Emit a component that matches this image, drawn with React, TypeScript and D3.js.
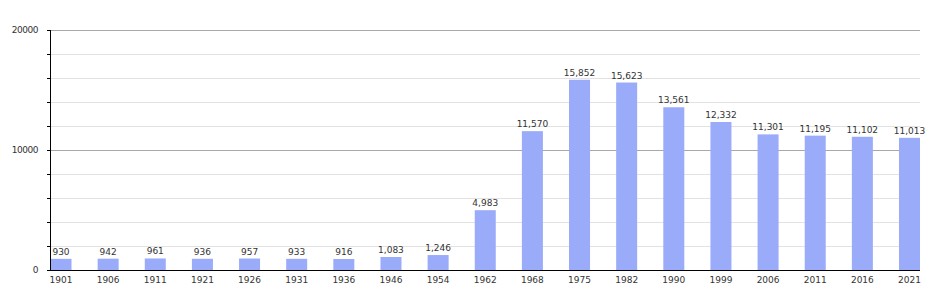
import React from "react";
import * as d3 from "d3";

const years = ["1901","1906","1911","1921","1926","1931","1936","1946","1954","1962","1968","1975","1982","1990","1999","2006","2011","2016","2021"];
const population = [930,942,961,936,957,933,916,1083,1246,4983,11570,15852,15623,13561,12332,11301,11195,11102,11013];
const yTicks = [0,2000,4000,6000,8000,10000,12000,14000,16000,18000,20000];
const yLabels = [0,10000,20000];

export default function App() {
  const width = 950, height = 300;
  const left = 50, right = 920, top = 30, bottom = 270;
  const barW = 21;
  const x = d3.scalePoint<string>().domain(years).range([left + 11, right - 10.5]);
  const y = d3.scaleLinear().domain([0, 20000]).range([bottom, top]);
  const fmt = d3.format(",");
  const font = "'DejaVu Sans', Verdana, sans-serif";
  return (
    <svg width={width} height={height} style={{ position: "absolute", left: 0, top: 0 }}>
      <rect width={width} height={height} fill="#fff" />
      {yTicks.map((t) => (
        <g key={t}>
          {t > 0 && (
            <line x1={left} x2={right} y1={y(t)} y2={y(t)}
              stroke={t % 10000 === 0 ? "#a8a8a8" : "#e2e2e2"} strokeWidth={1} shapeRendering="crispEdges" />
          )}
          <line x1={left - 3} x2={left} y1={y(t)} y2={y(t)} stroke="#000" shapeRendering="crispEdges" />
        </g>
      ))}
      {yLabels.map((t) => (
        <text key={t} x={left - 12} y={y(t) + 3} textAnchor="end" fontSize={9} fontFamily={font} fill="#333" letterSpacing={-0.5}>{t}</text>
      ))}
      {years.map((yr, i) => {
        const cx = x(yr)!;
        const v = population[i];
        return (
          <g key={yr}>
            <rect x={cx - barW / 2} y={y(v)} width={barW} height={bottom - y(v)} fill="#9aabf9" />
            <text x={cx} y={y(v) - 4} textAnchor="middle" fontSize={9} fontFamily={font} fill="#333">{fmt(v)}</text>
            <text x={cx} y={bottom + 13} textAnchor="middle" fontSize={9} fontFamily={font} fill="#333">{yr}</text>
          </g>
        );
      })}
      <line x1={left} x2={left} y1={top} y2={bottom} stroke="#000" shapeRendering="crispEdges" />
      <line x1={left} x2={right} y1={bottom} y2={bottom} stroke="#000" shapeRendering="crispEdges" />
    </svg>
  );
}
